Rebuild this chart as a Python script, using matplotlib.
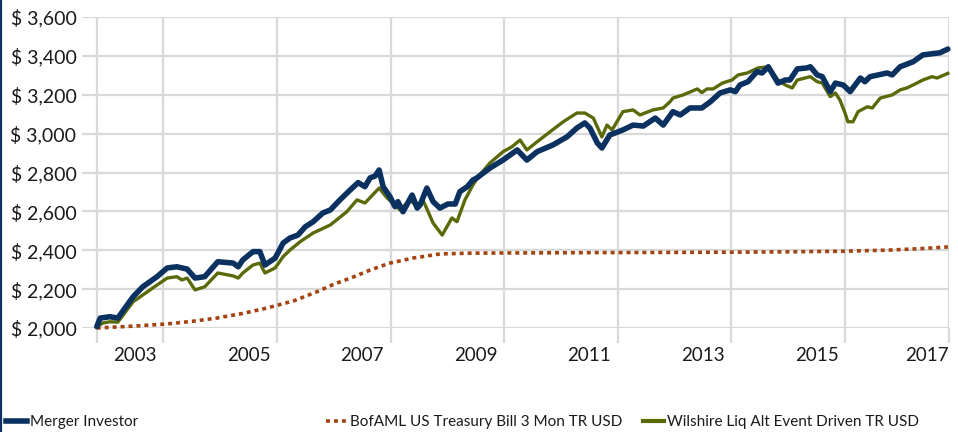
import matplotlib
matplotlib.use("Agg")
import matplotlib.pyplot as plt
from matplotlib.lines import Line2D

# ---------------- data ----------------
merger_years = [2002.83, 2002.89, 2003.06, 2003.20, 2003.47, 2003.64, 2003.89, 2004.07, 2004.24, 2004.42,
                2004.56, 2004.73, 2004.96, 2005.23, 2005.32, 2005.40, 2005.58, 2005.70, 2005.79, 2005.97,
                2006.11, 2006.23, 2006.37, 2006.50, 2006.64, 2006.81, 2006.94, 2007.11, 2007.29, 2007.43,
                2007.55, 2007.64, 2007.73, 2007.80, 2007.87, 2007.99, 2008.08, 2008.13, 2008.22, 2008.38,
                2008.47, 2008.52, 2008.64, 2008.75, 2008.87, 2009.01, 2009.14, 2009.22, 2009.35, 2009.45,
                2009.52, 2009.75, 2009.98, 2010.23, 2010.40, 2010.58, 2010.86, 2011.11, 2011.28, 2011.42,
                2011.51, 2011.64, 2011.72, 2011.86, 2012.09, 2012.27, 2012.45, 2012.66, 2012.80, 2012.97,
                2013.10, 2013.27, 2013.48, 2013.63, 2013.80, 2013.98, 2014.07, 2014.15, 2014.29, 2014.45,
                2014.54, 2014.65, 2014.82, 2014.95, 2015.03, 2015.16, 2015.33, 2015.39, 2015.51, 2015.60,
                2015.74, 2015.83, 2015.97, 2016.09, 2016.27, 2016.35, 2016.44, 2016.74, 2016.83, 2016.97,
                2017.20, 2017.37, 2017.67, 2017.81]
merger_values = [2007, 2051, 2058, 2051, 2161, 2212, 2264, 2309, 2315, 2303,
                 2257, 2264, 2341, 2334, 2315, 2350, 2393, 2393, 2324, 2360,
                 2437, 2463, 2478, 2521, 2547, 2592, 2607, 2659, 2710, 2748,
                 2727, 2772, 2782, 2813, 2727, 2676, 2624, 2650, 2598, 2684,
                 2617, 2633, 2720, 2650, 2617, 2638, 2638, 2701, 2727, 2761,
                 2772, 2823, 2864, 2916, 2864, 2907, 2942, 2984, 3029, 3055,
                 3029, 2952, 2926, 2993, 3019, 3044, 3039, 3080, 3044, 3113,
                 3096, 3132, 3132, 3164, 3209, 3225, 3216, 3250, 3267, 3319,
                 3312, 3344, 3260, 3276, 3276, 3333, 3338, 3344, 3302, 3293,
                 3216, 3260, 3250, 3216, 3286, 3267, 3293, 3312, 3302, 3344,
                 3370, 3405, 3416, 3435]

tbill_years = [2002.83, 2003.50, 2004.07, 2004.50, 2004.94, 2005.40, 2005.83, 2006.30, 2006.71, 2007.00,
               2007.34, 2007.64, 2007.99, 2008.40, 2008.87, 2009.40, 2009.98, 2011.00, 2012.04, 2013.00,
               2014.00, 2015.00, 2016.00, 2016.40, 2016.79, 2017.30, 2017.81]
tbill_values = [2000, 2010, 2021, 2034, 2051, 2075, 2103, 2140, 2187, 2225,
                2262, 2298, 2334, 2360, 2381, 2385, 2386, 2387, 2388, 2389,
                2390, 2392, 2395, 2398, 2401, 2408, 2417]

wilshire_years = [2002.83, 2002.94, 2003.06, 2003.20, 2003.47, 2003.64, 2003.89, 2004.07, 2004.24, 2004.33,
                  2004.42, 2004.56, 2004.73, 2004.96, 2005.23, 2005.32, 2005.40, 2005.58, 2005.70, 2005.79,
                  2005.97, 2006.11, 2006.23, 2006.41, 2006.64, 2006.94, 2007.23, 2007.41, 2007.55, 2007.80,
                  2007.94, 2008.04, 2008.17, 2008.34, 2008.47, 2008.57, 2008.75, 2008.91, 2009.08, 2009.17,
                  2009.31, 2009.45, 2009.57, 2009.75, 2009.98, 2010.14, 2010.28, 2010.40, 2010.58, 2010.81,
                  2011.04, 2011.28, 2011.42, 2011.57, 2011.72, 2011.81, 2011.90, 2012.09, 2012.27, 2012.39,
                  2012.62, 2012.80, 2012.92, 2012.97, 2013.15, 2013.40, 2013.48, 2013.57, 2013.68, 2013.84,
                  2014.01, 2014.12, 2014.28, 2014.47, 2014.65, 2014.82, 2014.95, 2015.07, 2015.16, 2015.39,
                  2015.51, 2015.60, 2015.74, 2015.83, 2015.91, 2016.00, 2016.05, 2016.14, 2016.23, 2016.39,
                  2016.48, 2016.62, 2016.83, 2016.97, 2017.09, 2017.23, 2017.37, 2017.53, 2017.62, 2017.81]
wilshire_values = [2007, 2026, 2032, 2030, 2135, 2170, 2221, 2257, 2264, 2247,
                   2257, 2196, 2212, 2283, 2268, 2257, 2283, 2324, 2334, 2283,
                   2309, 2367, 2401, 2444, 2489, 2530, 2598, 2659, 2643, 2720,
                   2669, 2643, 2607, 2659, 2624, 2659, 2540, 2478, 2566, 2547,
                   2659, 2736, 2787, 2849, 2907, 2933, 2967, 2916, 2958, 3010,
                   3061, 3106, 3106, 3080, 2983, 3044, 3019, 3113, 3122, 3096,
                   3122, 3132, 3164, 3183, 3199, 3230, 3211, 3230, 3230, 3260,
                   3276, 3302, 3312, 3338, 3344, 3276, 3250, 3235, 3276, 3293,
                   3267, 3260, 3190, 3209, 3173, 3106, 3061, 3061, 3113, 3138,
                   3132, 3183, 3199, 3225, 3235, 3255, 3276, 3293, 3286, 3310]

series_names = ["Merger Investor", "BofAML US Treasury Bill 3 Mon TR USD",
                "Wilshire Liq Alt Event Driven TR USD"]
y_ticks = [2000, 2200, 2400, 2600, 2800, 3000, 3200, 3400, 3600]
x_grid = [2002.83, 2004.0, 2006.0, 2008.0, 2010.0, 2012.0, 2014.0, 2016.0, 2017.83]
x_label_pos = [2003.5, 2005.5, 2007.5, 2009.5, 2011.5, 2013.5, 2015.5, 2017.45]
x_labels = ["2003", "2005", "2007", "2009", "2011", "2013", "2015", "2017"]

# ---------------- style ----------------
NAVY = "#0B3161"
OLIVE = "#5A6A08"
RUST = "#A4430F"
GRID = "#D9D9D9"
TXT = "#1A1A1A"

plt.rcParams["font.family"] = ["Lato", "DejaVu Sans"]

W, H = 958, 432
fig = plt.figure(figsize=(W / 100, H / 100), dpi=100)
ax = fig.add_axes([82 / W, (H - 328) / H, (949 - 82) / W, (328 - 17) / H])

ax.set_xlim(2002.57, 2017.83)
ax.set_ylim(2000, 3600)

for s in ax.spines.values():
    s.set_visible(False)

ax.set_yticks(y_ticks)
ax.set_yticklabels([f"$ {v:,}" for v in y_ticks], fontsize=14, color=TXT)
ax.tick_params(axis="y", length=0, pad=4)
ax.yaxis.grid(True, color=GRID, linewidth=1.6)

ax.set_xticks(x_grid)
ax.set_xticklabels([])
ax.tick_params(axis="x", which="major", length=11, width=1.6, color=GRID, direction="out")
ax.xaxis.grid(True, which="major", color=GRID, linewidth=1.6)
ax.set_xticks(x_label_pos, minor=True)
ax.set_xticklabels(x_labels, minor=True, fontsize=13.5, color=TXT)
ax.tick_params(axis="x", which="minor", length=0, pad=14)
ax.set_axisbelow(True)

ax.plot(tbill_years, tbill_values, color=RUST, linewidth=2.6,
        linestyle=(0, (1.1, 1.1)), dash_capstyle="butt", clip_on=False, zorder=3)
ax.plot(wilshire_years, wilshire_values, color=OLIVE, linewidth=2.4,
        solid_joinstyle="round", clip_on=False, zorder=4)
ax.plot(merger_years, merger_values, color=NAVY, linewidth=4.0,
        solid_joinstyle="round", solid_capstyle="round", clip_on=False, zorder=5)

# legends
h1 = Line2D([], [], color=NAVY, linewidth=4)
h2 = Line2D([], [], color=RUST, linewidth=2.6, linestyle=(0, (1.1, 1.1)), dash_capstyle="butt")
h3 = Line2D([], [], color=OLIVE, linewidth=3)
leg_x = [6, 326, 643]
for h, name, lx in zip([h1, h2, h3], series_names, leg_x):
    fig.legend([h], [name], loc="center left", bbox_to_anchor=(lx / W, (H - 422) / H),
               frameon=False, fontsize=11, handlelength=1.4, handletextpad=0.15,
               borderaxespad=0, borderpad=0, labelcolor=TXT)

fig.add_artist(Line2D([1 / W, 1 / W], [0, 1], transform=fig.transFigure, color=NAVY, linewidth=1.6))

fig.savefig("out.png", dpi=100)
